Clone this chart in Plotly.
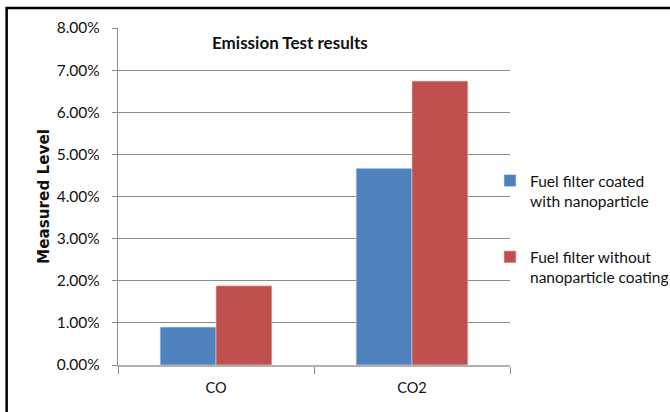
import plotly.graph_objects as go

categories = ["CO", "CO2"]
coated = [0.0090, 0.0467]
uncoated = [0.0188, 0.0674]
series_names = ["Fuel filter coated<br>with nanoparticle", "Fuel filter without<br>nanoparticle coating"]
colors = ["#4F81BD", "#C0504D"]
y_ticks = [0, 0.01, 0.02, 0.03, 0.04, 0.05, 0.06, 0.07, 0.08]

FONT = "Lato, Liberation Sans, sans-serif"

fig = go.Figure()
fig.add_trace(go.Bar(x=categories, y=coated, name=series_names[0], marker_color=colors[0],
                     marker_line_width=0.6, marker_line_color="#d6e0ee", legendgroup="a"))
fig.add_trace(go.Bar(x=categories, y=uncoated, name=series_names[1], marker_color=colors[1],
                     marker_line_width=0.6, marker_line_color="#ecd0cf", legendgroup="b"))

L, R, T, B = 117.5, 160, 28, 47
W, H = 670, 412
pw = W - L - R
ph = H - T - B

fig.update_layout(
    width=W, height=H,
    margin=dict(l=L, r=R, t=T, b=B, pad=0, autoexpand=False),
    paper_bgcolor="white", plot_bgcolor="white",
    barmode="group", bargap=0.43, bargroupgap=0,
    font=dict(family=FONT, size=13, color="#111"),
    showlegend=True,
    legend=dict(xref="container", yref="container", x=490 / W, xanchor="left",
                y=1 - 164 / H, yanchor="top",
                font=dict(family=FONT, size=15.5, color="#111"),
                tracegroupgap=33, itemwidth=30, valign="top",
                bgcolor="rgba(0,0,0,0)"),
    xaxis=dict(showgrid=False, showline=True, linecolor="#b0b0b0", linewidth=1.6,
               ticks="outside", ticklen=7, tickcolor="#8c8c8c", tickson="boundaries",
               ticklabelstandoff=9,
               tickfont=dict(family=FONT, size=14.5, color="#111")),
    yaxis=dict(range=[0, 0.08], tickvals=y_ticks, tickformat=".2%",
               showgrid=True, gridcolor="#8c8c8c", gridwidth=1.2,
               showline=True, linecolor="#8c8c8c", linewidth=1.3,
               ticks="outside", ticklen=5, tickcolor="#8c8c8c", ticklabelstandoff=9,
               tickfont=dict(family=FONT, size=15.5, color="#111"),
               title=dict(text="<b>Measured Level</b>", standoff=3,
                          font=dict(family="DejaVu Sans, Verdana, sans-serif", size=15.2, color="#111")),
               zeroline=False),
    annotations=[dict(text="<b>Emission Test results</b>", xref="paper", yref="paper",
                      x=(290 - L) / pw, y=(H - B - 43) / ph, xanchor="center", yanchor="middle",
                      showarrow=False, font=dict(family=FONT, size=17, color="#111"))],
    shapes=[dict(type="rect", xref="paper", yref="paper",
                 x0=(6 - L) / pw, x1=1.6, y0=-0.5, y1=(H - B - 8) / ph,
                 line=dict(color="black", width=2.5), fillcolor="rgba(0,0,0,0)", layer="above")],
)

fig.write_html("out.html", config={"displayModeBar": False},
               post_script="document.body.style.margin='0px';")
